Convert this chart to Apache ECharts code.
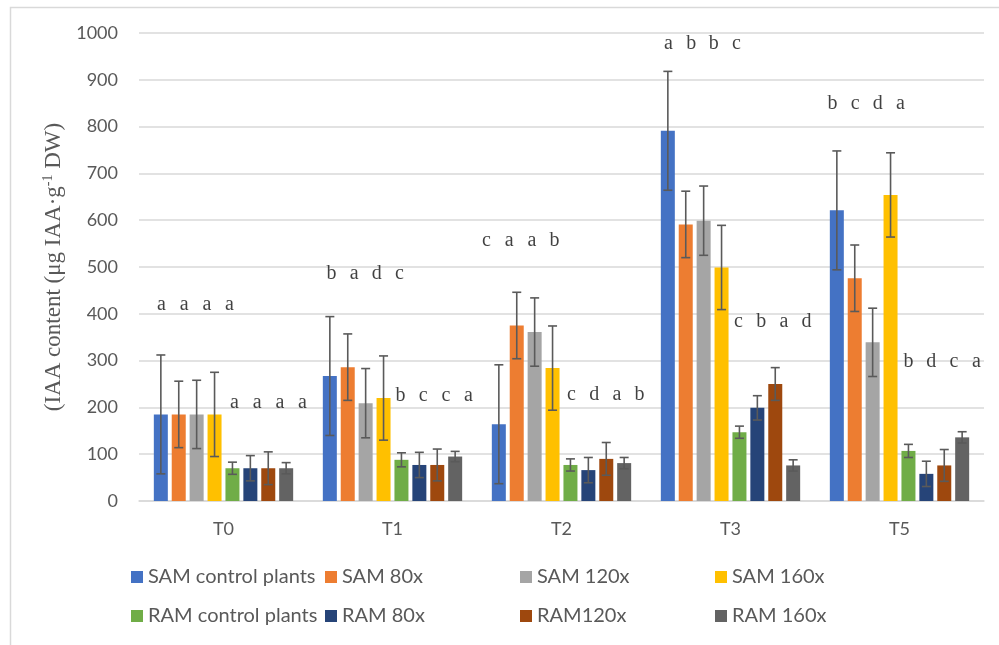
<!DOCTYPE html>
<html>
<head>
<meta charset="utf-8">
<script src="https://cdn.jsdelivr.net/npm/echarts@6/dist/echarts.min.js"></script>
<style>
  html, body { margin: 0; padding: 0; background: #ffffff; }
  #chart { width: 999px; height: 645px; }
</style>
</head>
<body>
<div id="chart"></div>
<script>
// Sampling times
const categories = ['T0', 'T1', 'T2', 'T3', 'T5'];

// Series names (legend order)
const seriesNames = [
  'SAM control plants', 'SAM 80x', 'SAM 120x', 'SAM 160x',
  'RAM control plants', 'RAM 80x', 'RAM120x', 'RAM 160x'
];

// Mean IAA content per series
const samControl = [185, 267, 164, 791, 621];
const sam80      = [185, 286, 375, 591, 476];
const sam120     = [185, 209, 361, 599, 339];
const sam160     = [185, 220, 284, 499, 654];
const ramControl = [70, 88, 77, 147, 107];
const ram80      = [70, 77, 66, 199, 58];
const ram120     = [70, 77, 90, 250, 76];
const ram160     = [70, 95, 81, 76, 136];

// Error bar half-lengths per series
const samControlErr = [127, 127, 127, 127, 127];
const sam80Err      = [71, 71, 71, 71, 71];
const sam120Err     = [73, 74, 73, 74, 73];
const sam160Err     = [90, 90, 90, 90, 90];
const ramControlErr = [13, 15, 13, 13, 14];
const ram80Err      = [27, 27, 27, 26, 27];
const ram120Err     = [35, 34, 35, 35, 34];
const ram160Err     = [12, 11, 12, 12, 12];

// Significance letters per time point and the level they sit at
const samLetters = ['a a a a', 'b a d c', 'c a a b', 'a b b c', 'b c d a'];
const ramLetters = ['a a a a', 'b c c a', 'c d a b', 'c b a d', 'b d c a'];
const samLetterLevel = [419, 485, 556, 977, 848];
const ramLetterLevel = [210, 224, 226, 382, 297];

// Y axis ticks
const yMin = 0, yMax = 1000, yStep = 100;

const values = [samControl, sam80, sam120, sam160, ramControl, ram80, ram120, ram160];
const errors = [samControlErr, sam80Err, sam120Err, sam160Err, ramControlErr, ram80Err, ram120Err, ram160Err];
const colors = ['#4472C4', '#ED7D31', '#A5A5A5', '#FFC000', '#70AD47', '#264478', '#9E480E', '#636363'];

// Horizontal placement of the letter groups (px from the category centre)
const SAM_LETTER_DX = -28;
const RAM_LETTER_DX = 45;
const samLetterNudge = [0, 1, -13, 0, -5];
const ramLetterNudge = [0, -3, -1, -3, -2];

const BAR_W = 14;
const BAR_GAP = 3.9;
const STEP = BAR_W + BAR_GAP;
const N = seriesNames.length;

const textColor = '#595959';
const uiFont = 'Lato';
const serifFont = '"Liberation Serif", "DejaVu Serif", serif';

const barSeries = seriesNames.map((name, i) => ({
  name: name,
  type: 'bar',
  barWidth: BAR_W,
  barGap: (BAR_GAP / BAR_W * 100).toFixed(1) + '%',
  itemStyle: { color: colors[i] },
  data: values[i],
  z: 2
}));

// Error bars: one row per (time, series)
const errRows = [];
values.forEach((arr, s) => arr.forEach((v, c) => errRows.push([c, s, v, errors[s][c]])));

const errorSeries = {
  type: 'custom',
  name: 'err',
  data: errRows,
  encode: { x: 0, y: 2 },
  z: 5,
  silent: true,
  renderItem: function (params, api) {
    const c = api.value(0), s = api.value(1), v = api.value(2), e = api.value(3);
    const dx = (s - (N - 1) / 2) * STEP;
    const top = api.coord([c, v + e]);
    const bot = api.coord([c, v - e]);
    const x = top[0] + dx;
    const cap = 4.5;
    const style = { stroke: '#5a5a5a', lineWidth: 1.6 };
    return {
      type: 'group',
      children: [
        { type: 'line', shape: { x1: x, y1: top[1], x2: x, y2: bot[1] }, style: style },
        { type: 'line', shape: { x1: x - cap, y1: top[1], x2: x + cap, y2: top[1] }, style: style },
        { type: 'line', shape: { x1: x - cap, y1: bot[1], x2: x + cap, y2: bot[1] }, style: style }
      ]
    };
  }
};

function letterRich(str) {
  return str.split(' ').map(ch => '{l|' + ch + '}').join('');
}

function letterSeries(letters, levels, dx, nudge) {
  return {
    type: 'scatter',
    name: 'letters',
    symbolSize: 0,
    silent: true,
    z: 6,
    data: levels.map((lv, i) => ({
      value: [i, lv],
      letters: letters[i],
      label: { offset: [dx + nudge[i], 0] }
    })),
    label: {
      show: true,
      position: 'inside',
      formatter: p => letterRich(p.data.letters),
      rich: {
        l: { fontFamily: serifFont, fontSize: 20, color: '#111111', width: 22.7, align: 'center' }
      }
    }
  };
}

// Legend: fixed columns, two rows
const legendCols = [131, 325, 520, 715];
const legendRows = [567, 606];
const legends = seriesNames.map((name, i) => ({
  data: [name],
  left: legendCols[i % 4],
  top: legendRows[Math.floor(i / 4)],
  padding: 0,
  icon: 'rect',
  itemWidth: 12,
  itemHeight: 12,
  itemGap: 0,
  textStyle: { fontFamily: uiFont, fontSize: 20, color: textColor, padding: [0, 0, 0, 0] },
  selectedMode: false
}));

const chart = echarts.init(document.getElementById('chart'), null, { renderer: 'canvas' });
chart.setOption({
  animation: false,
  backgroundColor: '#ffffff',
  graphic: [{
    type: 'rect',
    left: 8, top: 5,
    shape: { width: 1100, height: 800 },
    style: { fill: 'none', stroke: '#d9d9d9', lineWidth: 1.5 },
    silent: true,
    z: -1
  }],
  grid: { left: 139, right: 15, top: 33, bottom: 144, containLabel: false },
  legend: legends,
  xAxis: {
    type: 'category',
    data: categories,
    axisLine: { lineStyle: { color: '#d9d9d9', width: 1.5 } },
    axisTick: { show: false },
    axisLabel: { color: textColor, fontFamily: uiFont, fontSize: 18, margin: 19 }
  },
  yAxis: {
    type: 'value',
    min: yMin,
    max: yMax,
    interval: yStep,
    axisLine: { show: false },
    axisTick: { show: false },
    splitLine: { lineStyle: { color: '#d9d9d9', width: 1.5 } },
    axisLabel: {
      color: textColor, fontFamily: uiFont, fontSize: 18, margin: 21,
      formatter: v => String(v)
    },
    name: '{t|(IAA content (μg IAA·g}{s|-1}{t| DW)}',
    nameLocation: 'middle',
    nameRotate: 90,
    nameGap: 70,
    nameTextStyle: {
      rich: {
        t: { fontFamily: serifFont, fontSize: 23, color: textColor, lineHeight: 26 },
        s: { fontFamily: serifFont, fontSize: 14, color: textColor, verticalAlign: 'top', lineHeight: 26 }
      }
    }
  },
  series: barSeries.concat([
    errorSeries,
    letterSeries(samLetters, samLetterLevel, SAM_LETTER_DX, samLetterNudge),
    letterSeries(ramLetters, ramLetterLevel, RAM_LETTER_DX, ramLetterNudge)
  ])
});
</script>
</body>
</html>
